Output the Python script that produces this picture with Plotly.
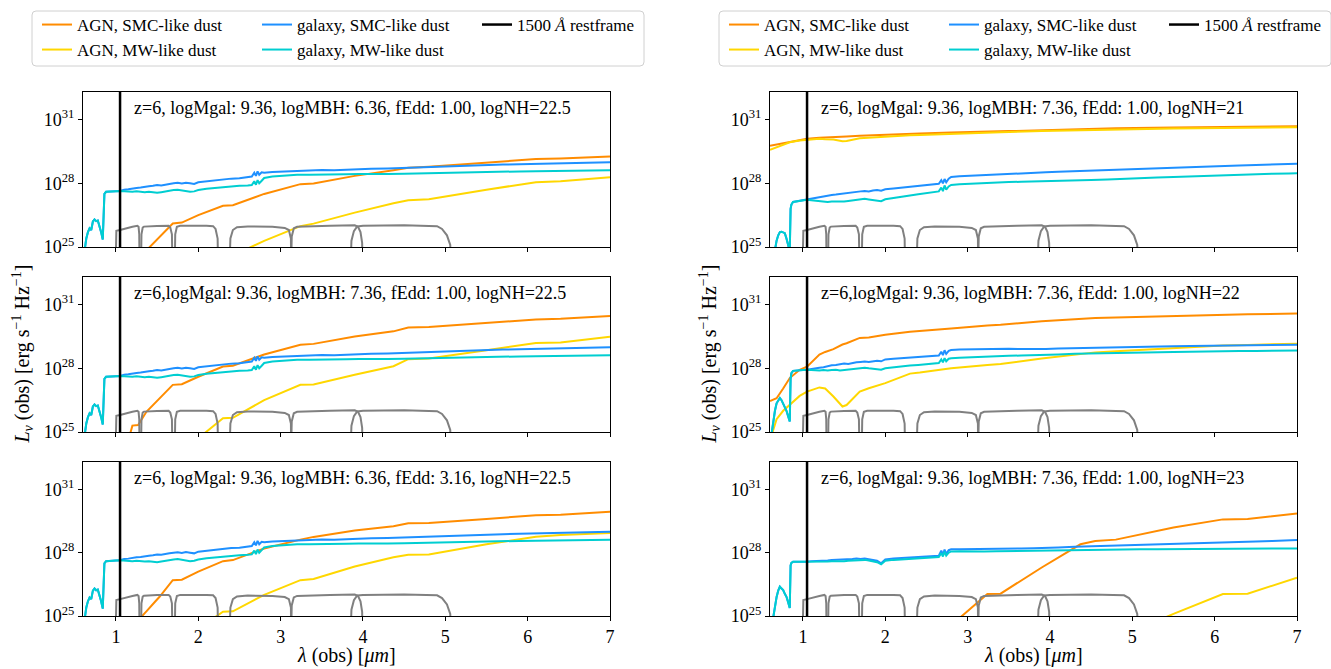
import plotly.graph_objects as go

FONT = "Liberation Serif"
W, H = 1331, 669

# ---------------- data (log10 of L_nu) ----------------
AGN_WL = [0.60, 0.68, 0.76, 0.84, 0.96, 1.05, 1.20, 1.27, 1.37, 1.48, 1.53, 1.69, 1.80, 2.00,
          2.30, 2.42, 2.80, 3.24, 3.40, 3.90, 4.37, 4.55, 4.80, 5.50, 6.10, 6.40, 7.00]

L1_AGN_SMC = [21.5, 21.8, 22.1, 22.4, 22.9, 23.3, 24.0, 24.4, 24.84, 25.28, 25.48, 26.11, 26.15, 26.5,
              26.94, 26.97, 27.5, 27.96, 27.99, 28.35, 28.62, 28.73, 28.78, 28.98, 29.14, 29.17, 29.26]
L1_AGN_MW = [20.0, 20.3, 20.6, 20.9, 21.3, 21.6, 22.1, 22.3, 22.6, 22.9, 23.0, 23.4, 23.6, 24.0,
             24.45, 24.6, 25.29, 25.98, 26.1, 26.62, 27.06, 27.2, 27.25, 27.7, 28.05, 28.1, 28.29]
L2_AGN_SMC = [21.8, 22.2, 22.6, 23.0, 23.1, 23.2, 25.3, 25.33, 25.95, 26.4, 26.59, 27.22, 27.25, 27.6,
              28.08, 28.12, 28.65, 29.11, 29.15, 29.5, 29.74, 29.92, 29.94, 30.12, 30.3, 30.33, 30.46]
L2_AGN_MW = [19.5, 19.8, 20.1, 20.4, 20.9, 21.2, 21.8, 22.0, 22.4, 22.8, 23.0, 23.6, 24.0, 24.7,
             25.65, 25.67, 26.5, 27.22, 27.24, 27.7, 28.1, 28.43, 28.46, 28.85, 29.19, 29.22, 29.49]
L3_AGN_SMC = [21.0, 21.4, 21.8, 22.2, 22.8, 23.3, 24.5, 24.78, 25.22, 25.7, 25.91, 26.7, 26.72, 27.1,
              27.6, 27.65, 28.2, 28.62, 28.75, 29.05, 29.25, 29.4, 29.41, 29.6, 29.78, 29.8, 29.94]
L3_AGN_MW = [19.0, 19.3, 19.6, 19.9, 20.4, 20.7, 21.3, 21.5, 21.9, 22.3, 22.5, 23.1, 23.5, 24.4,
             25.2, 25.22, 26.0, 26.7, 26.75, 27.35, 27.78, 27.9, 27.92, 28.4, 28.76, 28.84, 28.93]
R1_AGN_SMC = [29.77, 29.83, 29.9, 29.97, 30.05, 30.1, 30.14, 30.16, 30.18, 30.2, 30.21, 30.24, 30.25, 30.29,
              30.33, 30.34, 30.39, 30.44, 30.46, 30.51, 30.55, 30.57, 30.59, 30.63, 30.66, 30.67, 30.69]
R1_AGN_MW = [29.58, 29.7, 29.82, 29.93, 30.02, 30.06, 30.1, 30.08, 30.06, 29.98, 29.99, 30.12, 30.15, 30.2,
             30.26, 30.28, 30.34, 30.39, 30.41, 30.46, 30.5, 30.52, 30.54, 30.58, 30.61, 30.62, 30.64]
R2_AGN_SMC = [26.46, 26.59, 27.05, 27.54, 27.93, 28.08, 28.65, 28.77, 28.9, 29.12, 29.18, 29.43, 29.45, 29.58,
              29.72, 29.75, 29.88, 30.02, 30.05, 30.22, 30.33, 30.37, 30.39, 30.46, 30.53, 30.54, 30.58]
R2_AGN_MW = [24.6, 25.6, 26.0, 26.28, 26.7, 26.9, 27.1, 27.05, 26.67, 26.2, 26.27, 26.9, 27.06, 27.3,
             27.75, 27.8, 28.0, 28.15, 28.2, 28.46, 28.68, 28.75, 28.8, 28.95, 29.07, 29.1, 29.16]
R3_AGN_SMC = [19.0, 19.3, 19.6, 19.9, 20.3, 20.6, 21.0, 21.2, 21.5, 21.8, 21.9, 22.4, 22.7, 23.2,
              23.8, 24.0, 24.56, 26.04, 26.06, 27.3, 28.4, 28.55, 28.62, 29.2, 29.58, 29.6, 29.86]
R3_AGN_MW = [17.9, 18.0, 18.1, 18.2, 18.4, 18.5, 18.7, 18.8, 18.9, 19.1, 19.2, 19.4, 19.6, 19.9,
             20.3, 20.5, 21.0, 21.6, 21.8, 22.5, 23.2, 23.5, 23.9, 25.1, 26.04, 26.06, 26.81]

GAL_WL = [0.60, 0.62, 0.64, 0.66, 0.68, 0.70, 0.72, 0.74, 0.76, 0.78,
          0.80, 0.82, 0.84, 0.85, 0.86, 0.88, 0.92, 0.96, 1.00, 1.05,
          1.10, 1.15, 1.20, 1.25, 1.30, 1.35, 1.40, 1.45, 1.50, 1.55,
          1.60, 1.65, 1.70, 1.75, 1.80, 1.85, 1.90, 1.95, 2.00, 2.10,
          2.20, 2.30, 2.40, 2.50, 2.60, 2.65, 2.68, 2.70, 2.72, 2.74,
          2.77, 2.80, 2.90, 3.00, 3.10, 3.20, 3.35, 3.50, 3.65, 3.80,
          3.95, 4.10, 4.30, 4.50, 4.70, 4.90, 5.10, 5.30, 5.50, 5.70,
          5.90, 6.10, 6.30, 6.50, 6.70, 6.90, 7.00]

GAL_L_SMC = [24.3, 24.9, 25.4, 25.7, 25.88, 25.8, 26.2, 26.3, 26.22, 26.25,
             26.0, 25.7, 25.35, 27.2, 27.5, 27.6, 27.6, 27.62, 27.63, 27.64,
             27.7, 27.72, 27.76, 27.78, 27.8, 27.84, 27.86, 27.88, 27.92, 27.9,
             27.95, 27.97, 28.0, 28.02, 27.99, 28.03, 28.0, 27.97, 28.05, 28.1,
             28.14, 28.18, 28.22, 28.24, 28.28, 28.32, 28.5, 28.35, 28.56, 28.4,
             28.52, 28.5, 28.53, 28.55, 28.58, 28.6, 28.61, 28.63, 28.62, 28.65,
             28.66, 28.68, 28.7, 28.73, 28.76, 28.79, 28.82, 28.84, 28.86, 28.88,
             28.9, 28.92, 28.94, 28.95, 28.97, 28.98, 28.99]
GAL_L_MW = [24.3, 24.9, 25.4, 25.7, 25.88, 25.8, 26.2, 26.3, 26.22, 26.25,
            26.0, 25.7, 25.35, 27.2, 27.5, 27.6, 27.6, 27.62, 27.63, 27.64,
            27.62, 27.6, 27.6, 27.62, 27.6, 27.58, 27.6, 27.57, 27.55, 27.58,
            27.62, 27.64, 27.68, 27.7, 27.66, 27.64, 27.6, 27.62, 27.68, 27.74,
            27.78, 27.82, 27.85, 27.88, 27.9, 27.92, 28.1, 27.93, 28.15, 28.0,
            28.12, 28.25, 28.32, 28.35, 28.37, 28.4, 28.4, 28.42, 28.41, 28.43,
            28.44, 28.43, 28.44, 28.45, 28.47, 28.49, 28.5, 28.52, 28.53, 28.55,
            28.56, 28.57, 28.58, 28.59, 28.6, 28.6, 28.61]
GAL_R1_SMC = [23.5, 24.0, 24.5, 24.9, 25.3, 25.55, 25.7, 25.72, 25.7, 25.65,
              25.4, 25.1, 24.8, 26.8, 27.0, 27.12, 27.15, 27.18, 27.2, 27.22,
              27.28, 27.32, 27.36, 27.38, 27.42, 27.45, 27.47, 27.5, 27.52, 27.55,
              27.57, 27.6, 27.62, 27.64, 27.62, 27.66, 27.68, 27.65, 27.72, 27.76,
              27.8, 27.84, 27.88, 27.92, 27.96, 27.98, 28.15, 28.0, 28.2, 28.05,
              28.22, 28.3, 28.33, 28.35, 28.38, 28.4, 28.42, 28.44, 28.46, 28.5,
              28.52, 28.54, 28.57, 28.6, 28.62, 28.65, 28.68, 28.7, 28.73, 28.76,
              28.79, 28.81, 28.84, 28.86, 28.88, 28.9, 28.92]
GAL_R1_MW = [23.5, 24.0, 24.5, 24.9, 25.3, 25.55, 25.7, 25.72, 25.7, 25.65,
             25.4, 25.1, 24.8, 26.8, 27.0, 27.12, 27.15, 27.18, 27.2, 27.22,
             27.2, 27.18, 27.15, 27.14, 27.12, 27.14, 27.13, 27.15, 27.14, 27.17,
             27.2, 27.22, 27.25, 27.27, 27.24, 27.22, 27.18, 27.16, 27.25, 27.32,
             27.38, 27.43, 27.48, 27.54, 27.6, 27.62, 27.8, 27.63, 27.9, 27.7,
             27.85, 27.92, 27.96, 27.98, 28.0, 28.02, 28.05, 28.06, 28.07, 28.08,
             28.09, 28.1, 28.13, 28.15, 28.18, 28.22, 28.25, 28.27, 28.3, 28.33,
             28.36, 28.38, 28.41, 28.43, 28.45, 28.46, 28.47]
GAL_R2_SMC = [24.4, 25.0, 25.6, 26.0, 26.35, 26.5, 26.6, 26.5, 26.35, 26.2,
              26.0, 25.75, 25.5, 27.5, 27.77, 27.88, 27.9, 27.92, 27.92, 27.93,
              27.97, 28.0, 28.03, 28.05, 28.1, 28.14, 28.16, 28.19, 28.22, 28.2,
              28.25, 28.28, 28.3, 28.32, 28.3, 28.34, 28.36, 28.33, 28.42, 28.45,
              28.48, 28.5, 28.53, 28.56, 28.59, 28.6, 28.78, 28.62, 28.85, 28.68,
              28.82, 28.86, 28.88, 28.89, 28.9, 28.91, 28.92, 28.92, 28.91, 28.9,
              28.91, 28.93, 28.95, 28.96, 28.98, 29.0, 29.01, 29.02, 29.04, 29.05,
              29.06, 29.07, 29.08, 29.09, 29.1, 29.1, 29.11]
GAL_R2_MW = [24.4, 25.0, 25.6, 26.0, 26.35, 26.5, 26.6, 26.5, 26.35, 26.2,
             26.0, 25.75, 25.5, 27.5, 27.77, 27.88, 27.9, 27.92, 27.92, 27.93,
             27.92, 27.9, 27.9, 27.92, 27.9, 27.92, 27.93, 27.9, 27.92, 27.95,
             27.97, 28.0, 28.02, 28.03, 28.0, 27.98, 27.95, 27.93, 28.0, 28.05,
             28.1, 28.13, 28.16, 28.2, 28.24, 28.25, 28.42, 28.28, 28.48, 28.33,
             28.45, 28.47, 28.5, 28.52, 28.54, 28.56, 28.58, 28.59, 28.6, 28.61,
             28.63, 28.65, 28.68, 28.7, 28.72, 28.74, 28.75, 28.76, 28.77, 28.78,
             28.8, 28.81, 28.82, 28.82, 28.83, 28.84, 28.84]
GAL_R3_SMC = [24.0, 24.5, 25.0, 25.5, 25.9, 26.2, 26.39, 26.3, 26.23, 26.05,
              25.91, 25.65, 25.38, 27.4, 27.52, 27.57, 27.57, 27.56, 27.57, 27.57,
              27.6, 27.6, 27.62, 27.6, 27.63, 27.65, 27.66, 27.64, 27.67, 27.68,
              27.7, 27.72, 27.7, 27.73, 27.7, 27.68, 27.62, 27.5, 27.68, 27.72,
              27.75, 27.77, 27.8, 27.82, 27.85, 27.86, 28.1, 27.9, 28.15, 27.95,
              28.12, 28.16, 28.17, 28.17, 28.18, 28.18, 28.19, 28.2, 28.2, 28.21,
              28.22, 28.25, 28.28, 28.3, 28.32, 28.35, 28.38, 28.4, 28.42, 28.44,
              28.46, 28.48, 28.5, 28.53, 28.56, 28.59, 28.6]
GAL_R3_MW = [24.0, 24.5, 25.0, 25.5, 25.9, 26.2, 26.39, 26.3, 26.23, 26.05,
             25.91, 25.65, 25.38, 27.4, 27.52, 27.57, 27.57, 27.56, 27.57, 27.57,
             27.58, 27.57, 27.58, 27.56, 27.58, 27.6, 27.6, 27.58, 27.6, 27.62,
             27.63, 27.65, 27.64, 27.66, 27.63, 27.6, 27.55, 27.45, 27.62, 27.66,
             27.69, 27.72, 27.74, 27.76, 27.78, 27.8, 27.98, 27.82, 28.05, 27.86,
             28.0, 28.06, 28.07, 28.06, 28.07, 28.06, 28.07, 28.08, 28.07, 28.08,
             28.09, 28.1, 28.12, 28.13, 28.14, 28.15, 28.16, 28.17, 28.17, 28.18,
             28.18, 28.19, 28.19, 28.2, 28.2, 28.2, 28.2]

# NIRCam filter throughputs (scaled, log10)
F115W_WL = [0.99, 1.00, 1.005, 1.05, 1.10, 1.20, 1.26, 1.275, 1.283, 1.29]
F115W_LOG = [23.0, 25.6, 25.76, 25.8, 25.86, 25.95, 26.0, 25.95, 25.6, 23.0]
F150W_WL = [1.30, 1.31, 1.325, 1.34, 1.50, 1.64, 1.66, 1.68, 1.69]
F150W_LOG = [23.0, 25.6, 25.92, 25.96, 25.99, 26.0, 25.92, 25.6, 23.0]
F200W_WL = [1.71, 1.72, 1.74, 1.78, 2.10, 2.18, 2.21, 2.235, 2.245]
F200W_LOG = [23.0, 25.6, 25.95, 26.0, 26.0, 25.98, 25.85, 25.4, 23.0]
F277W_WL = [2.37, 2.39, 2.42, 2.47, 2.60, 2.90, 3.05, 3.10, 3.125, 3.13]
F277W_LOG = [23.0, 25.4, 25.8, 25.93, 25.97, 25.95, 25.9, 25.8, 25.4, 23.0]
F356W_WL = [3.12, 3.135, 3.16, 3.20, 3.60, 3.90, 3.94, 3.97, 3.99, 4.00]
F356W_LOG = [23.0, 25.5, 25.88, 25.95, 26.0, 26.02, 25.95, 25.7, 25.2, 23.0]
F444W_WL = [3.84, 3.86, 3.89, 3.93, 4.00, 4.50, 4.90, 4.96, 5.02, 5.06, 5.075]
F444W_LOG = [23.0, 25.3, 25.75, 25.97, 26.0, 26.02, 25.98, 25.85, 25.55, 25.1, 23.0]
FILTERS_WL = [F115W_WL, F150W_WL, F200W_WL, F277W_WL, F356W_WL, F444W_WL]
FILTERS_LOG = [F115W_LOG, F150W_LOG, F200W_LOG, F277W_LOG, F356W_LOG, F444W_LOG]

LAM_1500 = 1.05  # 1500 A restframe at z=6, in micron
Y_LOG_RANGE = [25.0, 32.3]
X_RANGE = [0.6, 7.0]
X_TICKS = [1, 2, 3, 4, 5, 6, 7]
Y_TICKS = [25, 28, 31]

PANEL_TEXT = [
    "z=6, logMgal: 9.36, logMBH: 6.36, fEdd: 1.00, logNH=22.5",
    "z=6,logMgal: 9.36, logMBH: 7.36, fEdd: 1.00, logNH=22.5",
    "z=6, logMgal: 9.36, logMBH: 6.36, fEdd: 3.16, logNH=22.5",
    "z=6, logMgal: 9.36, logMBH: 7.36, fEdd: 1.00, logNH=21",
    "z=6,logMgal: 9.36, logMBH: 7.36, fEdd: 1.00, logNH=22",
    "z=6, logMgal: 9.36, logMBH: 7.36, fEdd: 1.00, logNH=23",
]
PANEL_DATA = [
    (L1_AGN_SMC, L1_AGN_MW, GAL_L_SMC, GAL_L_MW),
    (L2_AGN_SMC, L2_AGN_MW, GAL_L_SMC, GAL_L_MW),
    (L3_AGN_SMC, L3_AGN_MW, GAL_L_SMC, GAL_L_MW),
    (R1_AGN_SMC, R1_AGN_MW, GAL_R1_SMC, GAL_R1_MW),
    (R2_AGN_SMC, R2_AGN_MW, GAL_R2_SMC, GAL_R2_MW),
    (R3_AGN_SMC, R3_AGN_MW, GAL_R3_SMC, GAL_R3_MW),
]
NAMES = ["AGN, SMC-like dust", "AGN, MW-like dust", "galaxy, SMC-like dust",
         "galaxy, MW-like dust", "1500 <i>Å</i> restframe"]
COLORS = ["#ff8c00", "#ffd700", "#1e90ff", "#00ced1", "#808080", "#000000"]

# ---------------- layout geometry (pixels) ----------------
COL_X = [(83, 610), (770, 1297)]
ROW_Y = [(92, 247), (277, 432), (462, 616)]


def pxx(p):
    return p / W


def pxy(p):
    return 1 - p / H


def lin(vals):
    return [10.0 ** float(v) for v in vals]


fig = go.Figure()
layout = {}
annotations = []

for i in range(6):
    col, row = divmod(i, 3)
    k = i + 1
    xa = "x" if k == 1 else f"x{k}"
    ya = "y" if k == 1 else f"y{k}"
    agn_smc, agn_mw, gal_smc, gal_mw = PANEL_DATA[i]
    first = row == 0
    lg_a = "legend" if col == 0 else "legend3"
    lg_b = "legend2" if col == 0 else "legend4"

    fig.add_trace(go.Scatter(x=AGN_WL, y=lin(agn_smc), mode="lines", name=NAMES[0],
                             line=dict(color=COLORS[0], width=2), xaxis=xa, yaxis=ya,
                             showlegend=first, legend=lg_a))
    fig.add_trace(go.Scatter(x=AGN_WL, y=lin(agn_mw), mode="lines", name=NAMES[1],
                             line=dict(color=COLORS[1], width=2), xaxis=xa, yaxis=ya,
                             showlegend=first, legend=lg_b))
    fig.add_trace(go.Scatter(x=GAL_WL, y=lin(gal_smc), mode="lines", name=NAMES[2],
                             line=dict(color=COLORS[2], width=2), xaxis=xa, yaxis=ya,
                             showlegend=first, legend=lg_a))
    fig.add_trace(go.Scatter(x=GAL_WL, y=lin(gal_mw), mode="lines", name=NAMES[3],
                             line=dict(color=COLORS[3], width=2), xaxis=xa, yaxis=ya,
                             showlegend=first, legend=lg_b))
    for fw, fl in zip(FILTERS_WL, FILTERS_LOG):
        fig.add_trace(go.Scatter(x=fw, y=lin(fl), mode="lines", line=dict(color=COLORS[4], width=2),
                                 xaxis=xa, yaxis=ya, showlegend=False, hoverinfo="skip"))
    fig.add_trace(go.Scatter(x=[LAM_1500, LAM_1500], y=lin([20, 33]), mode="lines", name=NAMES[4],
                             line=dict(color=COLORS[5], width=2.5), xaxis=xa, yaxis=ya,
                             showlegend=first, legend=lg_a))

    x0, x1 = COL_X[col]
    y0, y1 = ROW_Y[row]
    axfont = dict(family=FONT, size=18, color="black")
    layout["xaxis" if k == 1 else f"xaxis{k}"] = dict(
        domain=[pxx(x0), pxx(x1)], range=X_RANGE, anchor=ya, showgrid=False, zeroline=False,
        showline=True, linecolor="black", linewidth=1, mirror=True, ticks="outside", ticklen=4,
        tickcolor="black", tickvals=X_TICKS, ticktext=[str(t) for t in X_TICKS],
        showticklabels=(row == 2), tickfont=axfont)
    layout["yaxis" if k == 1 else f"yaxis{k}"] = dict(
        domain=[pxy(y1), pxy(y0)], type="log", range=Y_LOG_RANGE, anchor=xa, showgrid=False,
        zeroline=False, showline=True, linecolor="black", linewidth=1, mirror=True,
        ticks="outside", ticklen=4, tickcolor="black", tickvals=lin(Y_TICKS),
        ticktext=[f"10<sup>{t}</sup>" for t in Y_TICKS], tickfont=axfont)
    annotations.append(dict(text=PANEL_TEXT[i], x=1.19, xref=xa, xanchor="left",
                            y=0.895, yref=f"{ya} domain", yanchor="middle", showarrow=False,
                            font=dict(family=FONT, size=18, color="black")))

# axis titles
for col in range(2):
    x0, x1 = COL_X[col]
    annotations.append(dict(text="<i>L</i><sub><i>ν</i></sub> (obs) [erg s<sup>−1</sup> Hz<sup>−1</sup>]",
                            x=pxx(x0 - 61), y=pxy((ROW_Y[1][0] + ROW_Y[1][1]) / 2), xref="paper",
                            yref="paper", textangle=-90, showarrow=False, xanchor="center",
                            yanchor="middle", font=dict(family=FONT, size=20, color="black")))
    annotations.append(dict(text="<i>λ</i> (obs) [<i>μm</i>]", x=pxx((x0 + x1) / 2), y=pxy(655),
                            xref="paper", yref="paper", showarrow=False, xanchor="center",
                            yanchor="middle", font=dict(family=FONT, size=20, color="black")))

# legend boxes (rounded)
shapes = []
for bx0 in (32, 719):
    bx1, by0, by1, r = bx0 + 612, 11, 66, 4
    rx, ry = r / W, r / H
    X0, X1, Y0, Y1 = pxx(bx0), pxx(bx1), pxy(by0), pxy(by1)
    path = (f"M {X0+rx},{Y0} L {X1-rx},{Y0} Q {X1},{Y0} {X1},{Y0-ry} L {X1},{Y1+ry} "
            f"Q {X1},{Y1} {X1-rx},{Y1} L {X0+rx},{Y1} Q {X0},{Y1} {X0},{Y1+ry} "
            f"L {X0},{Y0-ry} Q {X0},{Y0} {X0+rx},{Y0} Z")
    shapes.append(dict(type="path", path=path, xref="paper", yref="paper",
                       line=dict(color="#d0d0d0", width=1), fillcolor="white", layer="below"))

legfont = dict(family=FONT, size=17, color="black")


def leg(xp, yp):
    return dict(orientation="h", x=pxx(xp), y=pxy(yp), xanchor="left", yanchor="middle",
                entrywidth=175, entrywidthmode="pixels", font=legfont,
                bgcolor="rgba(0,0,0,0)", borderwidth=0, traceorder="normal",
                itemclick=False, itemdoubleclick=False)


layout["legend"] = leg(37, 25)
layout["legend2"] = leg(37, 50)
layout["legend3"] = leg(724, 25)
layout["legend4"] = leg(724, 50)

fig.update_layout(width=W, height=H, margin=dict(l=0, r=0, t=0, b=0, autoexpand=False),
                  plot_bgcolor="white", paper_bgcolor="white", annotations=annotations,
                  shapes=shapes, font=dict(family=FONT, size=16, color="black"), **layout)

fig.write_html("out.html")
